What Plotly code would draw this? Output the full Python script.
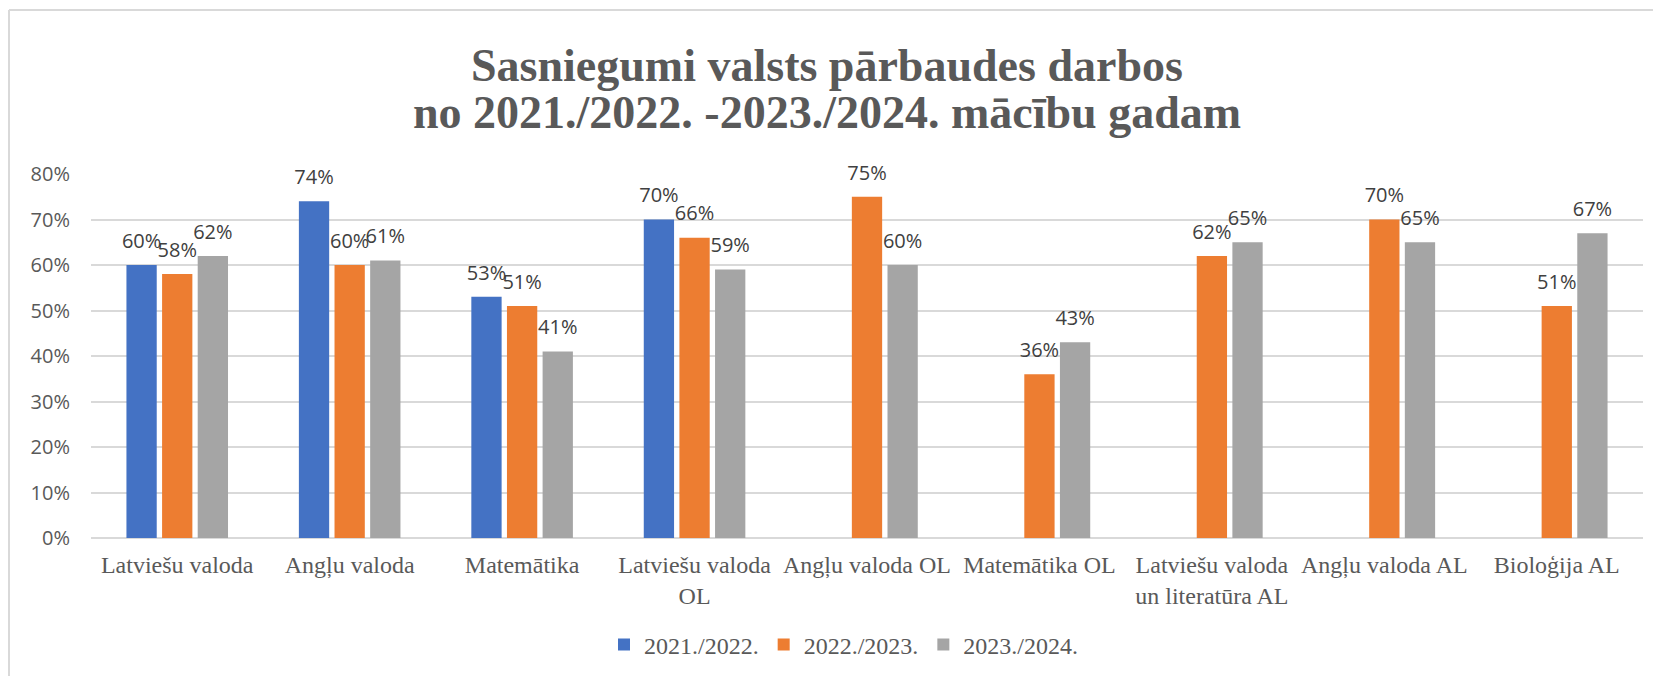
import plotly.graph_objects as go

categories = ["Latviešu valoda", "Angļu valoda", "Matemātika", "Latviešu valoda<br>OL",
              "Angļu valoda OL", "Matemātika OL", "Latviešu valoda<br>un literatūra AL",
              "Angļu valoda AL", "Bioloģija AL"]
series_names = ["2021./2022.", "2022./2023.", "2023./2024."]
v2122 = [0.60, 0.74, 0.53, 0.70, None, None, None, None, None]
v2223 = [0.58, 0.60, 0.51, 0.66, 0.75, 0.36, 0.62, 0.70, 0.51]
v2324 = [0.62, 0.61, 0.41, 0.59, 0.60, 0.43, 0.65, 0.65, 0.67]
colors = ["#4472C4", "#ED7D31", "#A5A5A5"]
y_ticks = [0, 0.1, 0.2, 0.3, 0.4, 0.5, 0.6, 0.7, 0.8]
title_lines = ["Sasniegumi valsts pārbaudes darbos", "no 2021./2022. -2023./2024. mācību gadam"]

W, H = 1653, 676
L, R, T, B = 91, 10, 174, 138
pw, ph = W - L - R, H - T - B
GAP = 0.38

fig = go.Figure()
for i, (name, vals, col) in enumerate(zip(series_names, [v2122, v2223, v2324], colors)):
    fig.add_trace(go.Bar(
        x=categories, y=vals, name=name, offsetgroup=str(i),
        marker=dict(color=col, line=dict(width=0)), hoverinfo="x+y+name",
    ))
for i, vals in enumerate([v2122, v2223, v2324]):
    fig.add_trace(go.Scatter(
        x=categories, y=vals, mode="markers+text", offsetgroup=str(i), showlegend=False,
        marker=dict(size=18, opacity=0), hoverinfo="skip", cliponaxis=False,
        text=[f"{v*100:.0f}%" if v is not None else "" for v in vals],
        textposition="top center",
        textfont=dict(family="Open Sans", size=20, color="#404040"),
    ))


def px_x(p):
    return (p - L) / pw


def px_y(p):
    return (H - B - p) / ph


annotations = []
for line, ypix in zip(title_lines, [66, 113]):
    annotations.append(dict(
        text=line, xref="paper", yref="paper", x=px_x(826.5), y=px_y(ypix),
        xanchor="center", yanchor="middle", showarrow=False,
        font=dict(family="Liberation Serif", size=46, color="#595959", weight="bold")))

fig.update_layout(
    width=W, height=H, barmode="group", bargap=GAP, bargroupgap=0.15,
    scattermode="group", scattergap=GAP,
    margin=dict(l=L, r=R, t=T, b=B, autoexpand=False),
    paper_bgcolor="white", plot_bgcolor="white",
    annotations=annotations,
    xaxis=dict(tickfont=dict(family="Liberation Serif", size=24, color="#595959"),
               showline=False, ticks="", showgrid=False, ticklabelstandoff=10),
    yaxis=dict(range=[0, 0.8], tickvals=y_ticks, tickformat=".0%",
               tickfont=dict(family="Open Sans", size=20, color="#595959"),
               gridcolor="#D9D9D9", gridwidth=1.5, zeroline=True, zerolinecolor="#D9D9D9",
               zerolinewidth=1.5, showline=False, ticks="", ticklabelstandoff=20),
    legend=dict(orientation="h", x=px_x(604), xanchor="left", y=px_y(645), yanchor="middle",
                font=dict(family="Liberation Serif", size=24, color="#595959"),
                itemwidth=30, traceorder="normal"),
    shapes=[
        dict(type="line", xref="paper", yref="paper", x0=px_x(9), x1=px_x(W + 5),
             y0=px_y(10), y1=px_y(10), line=dict(color="#D9D9D9", width=2)),
        dict(type="line", xref="paper", yref="paper", x0=px_x(9), x1=px_x(9),
             y0=px_y(10), y1=px_y(H + 5), line=dict(color="#D9D9D9", width=2)),
    ],
)
fig.write_html("out.html", config={"displayModeBar": False},
               post_script="document.body.style.margin='0px';")
